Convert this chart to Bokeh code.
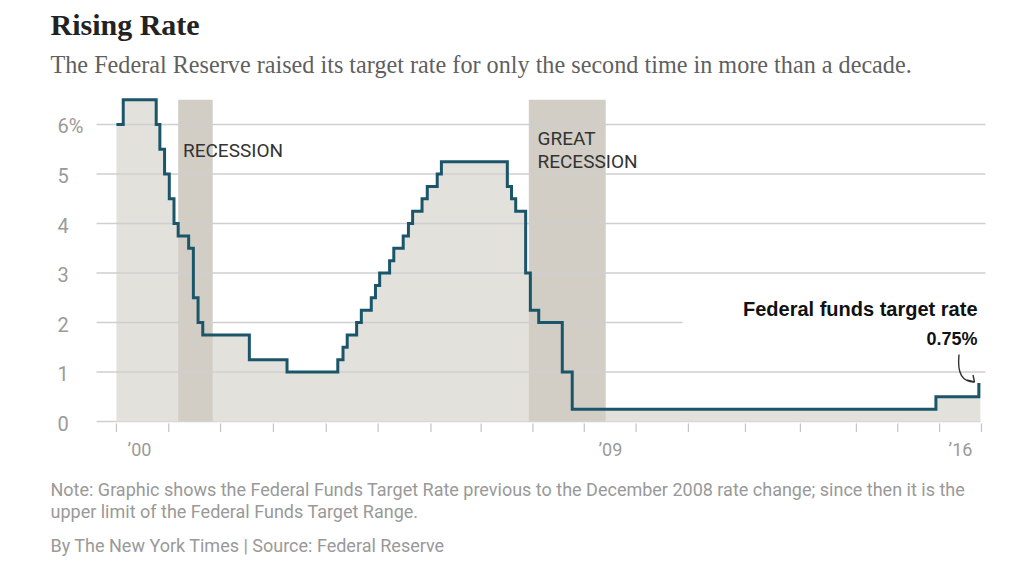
import numpy as np
from bokeh.plotting import figure
from bokeh.models import Range1d, Label
from bokeh.embed import file_html
from bokeh.resources import INLINE

# ---------------- data ----------------
change_dates = [2000.25, 2000.38, 2001.01, 2001.08, 2001.17, 2001.26, 2001.35, 2001.43,
                2001.63, 2001.72, 2001.81, 2001.90, 2002.79, 2003.51, 2004.48, 2004.58,
                2004.66, 2004.84, 2004.93, 2005.12, 2005.20, 2005.28, 2005.47, 2005.55,
                2005.73, 2005.83, 2005.91, 2006.09, 2006.19, 2006.38, 2006.46, 2007.72,
                2007.80, 2007.88, 2008.07, 2008.16, 2008.32, 2008.77, 2008.96, 2015.91,
                2016.73]
target_rate = [6.0, 6.5, 6.0, 5.5, 5.0, 4.5, 4.0, 3.75,
               3.5, 2.5, 2.0, 1.75, 1.25, 1.0, 1.25, 1.5,
               1.75, 2.0, 2.25, 2.5, 2.75, 3.0, 3.25, 3.5,
               3.75, 4.0, 4.25, 4.5, 4.75, 5.0, 5.25, 4.75,
               4.5, 4.25, 3.0, 2.25, 2.0, 1.0, 0.25, 0.5,
               0.75]
series_end = 2016.76

recession_start = [2001.43, 2008.13]
recession_end = [2002.09, 2009.60]
recession_top = [6.5, 6.5]

y_ticks = [0, 1, 2, 3, 4, 5, 6]
y_tick_labels = ["0", "1", "2", "3", "4", "5", "6%"]
x_tick_years = [2000.25, 2001.25, 2002.24, 2003.25, 2004.26, 2005.25, 2006.26, 2007.22,
                2008.21, 2009.19, 2010.18, 2011.18, 2012.27, 2013.32, 2014.39, 2015.18,
                2015.98, 2016.78]
x_label_text = ["\u201900", "\u201909", "\u201916"]
x_label_pos = [2000.69, 2009.69, 2016.38]

# ---------------- layout helpers (page pixels -> data) ----------------
W, H = 1016, 557
ORIGIN = 0  # the figure's top-left corner lands at the page's top-left
PX_2000, PX_PER_YEAR = 102.85, 52.33
PY_ZERO, PY_PER_UNIT = 421.0, 49.5

def xd(px):
    return 2000 + (px - PX_2000) / PX_PER_YEAR

def yd(py):
    return (PY_ZERO - py) / PY_PER_UNIT

X0, X1 = xd(ORIGIN), xd(ORIGIN + W)
Y1, Y0 = yd(ORIGIN), yd(ORIGIN + H)

SANS = "Roboto"
SERIF = "Liberation Serif"
LINE = "#1b556a"
AREA = "#e3e1dc"
BAND = "#d2cec6"
GRID = "#cfcfcf"

p = figure(width=W, height=H, x_range=Range1d(X0, X1), y_range=Range1d(Y0, Y1),
           output_backend="svg", toolbar_location=None,
           x_axis_location=None, y_axis_location=None, min_border=0)
p.min_border_left = p.min_border_right = p.min_border_top = p.min_border_bottom = 0
p.outline_line_color = None
p.background_fill_color = "white"
p.border_fill_color = "white"
for g in p.grid:
    g.visible = False

# step coordinates
sx, sy = [], []
for i, (d, r) in enumerate(zip(change_dates, target_rate)):
    nxt = change_dates[i + 1] if i + 1 < len(change_dates) else series_end
    sx += [d, nxt]
    sy += [r, r]
sx = np.array(sx)
sy = np.array(sy)

grid_left, grid_right, grid_two_right = xd(96), xd(985), xd(682)

# baseline
p.segment(x0=[grid_left], y0=[0], x1=[series_end], y1=[0], line_color=GRID, line_width=1.5)
# area under the curve
p.varea(x=sx, y1=np.zeros_like(sy), y2=sy, fill_color=AREA)
# recession bands
p.quad(left=recession_start, right=recession_end, bottom=[0, 0], top=recession_top,
       fill_color=BAND, line_color=None)
# gridlines
gy = [v for v in y_ticks if v > 0]
gx1 = [grid_two_right if v == 2 else grid_right for v in gy]
p.segment(x0=[grid_left] * len(gy), y0=gy, x1=gx1, y1=gy, line_color=GRID, line_width=1.3)
# step line
p.line(sx, sy, line_color=LINE, line_width=3, line_join="miter")

# x ticks
p.segment(x0=x_tick_years, y0=[yd(423)] * len(x_tick_years), x1=x_tick_years,
          y1=[yd(431.5)] * len(x_tick_years), line_color="#c4c4c4", line_width=1.2)

def label(x, y, text, size, color, font=SANS, align="left", style="normal"):
    p.add_layout(Label(x=x, y=y, text=text, text_font=font, text_font_size=size,
                       text_color=color, text_align=align, text_baseline="middle",
                       text_font_style=style))

# y tick labels
for v, t in zip(y_ticks, y_tick_labels):
    label(xd(57), v - 1.5 / PY_PER_UNIT, t, "20px", "#9a9a9a")
# x tick labels
for xpos, t in zip(x_label_pos, x_label_text):
    label(xpos, yd(449), t, "18px", "#9a9a9a", align="center")

# titles
label(xd(50), yd(24), "Rising Rate", "30px", "#222222", font=SERIF, style="bold")
label(xd(50), yd(64), "The Federal Reserve raised its target rate for only the second time in more than a decade.",
      "24.2px", "#5f5f5f", font=SERIF)

# annotations
label(xd(182.5), yd(150), "RECESSION", "19px", "#333333")
label(xd(537), yd(137.5), "GREAT", "19px", "#333333")
label(xd(537), yd(160.5), "RECESSION", "19px", "#333333")
label(xd(977), yd(308), "Federal funds target rate", "20px", "#111111",
      font="Liberation Sans", align="right", style="bold")
label(xd(977), yd(338), "0.75%", "18px", "#111111", font="Liberation Sans", align="right", style="bold")

# curved arrow
p.bezier(x0=[xd(958.5)], y0=[yd(354)], x1=[xd(974)], y1=[yd(381.5)],
         cx0=[xd(956.5)], cy0=[yd(374)], cx1=[xd(962)], cy1=[yd(381)],
         line_color="#333333", line_width=1.4)
p.segment(x0=[xd(974), xd(974)], y0=[yd(381.5), yd(381.5)],
          x1=[xd(966.5), xd(972.5)], y1=[yd(379.5), yd(374.5)],
          line_color="#333333", line_width=1.4)

# notes
label(xd(50), yd(489), "Note: Graphic shows the Federal Funds Target Rate previous to the December 2008 rate change; since then it is the",
      "18px", "#999999")
label(xd(50), yd(511), "upper limit of the Federal Funds Target Range.", "18px", "#999999")
label(xd(50), yd(545), "By The New York Times | Source: Federal Reserve", "18px", "#999999")

open("out.html", "w").write(file_html(p, INLINE))
